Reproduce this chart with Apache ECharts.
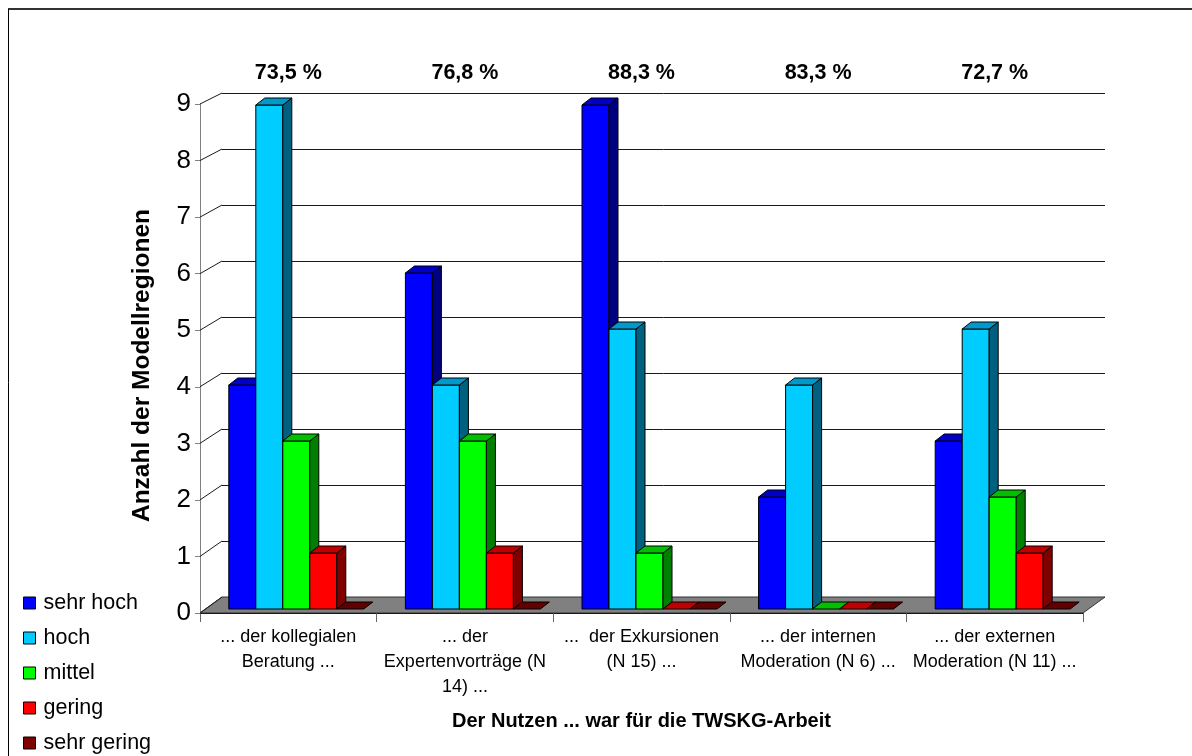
<!DOCTYPE html>
<html>
<head>
<meta charset="utf-8">
<script src="https://cdn.jsdelivr.net/npm/echarts@6/dist/echarts.min.js"></script>
<style>
html,body{margin:0;padding:0;background:#fff;}
#chart{width:1192px;height:756px;}
</style>
</head>
<body>
<div id="chart"></div>
<script>
// ---- data ----
const categories = [
  '... der kollegialen\nBeratung ...',
  '... der\nExpertenvorträge (N\n14) ...',
  '...  der Exkursionen\n(N 15) ...',
  '... der internen\nModeration (N 6) ...',
  '... der externen\nModeration (N 11) ...'
];
const percentLabels = ['73,5 %', '76,8 %', '88,3 %', '83,3 %', '72,7 %'];
const seriesNames = ['sehr hoch', 'hoch', 'mittel', 'gering', 'sehr gering'];
const sehrHoch   = [4, 6, 9, 2, 3];
const hoch       = [9, 4, 5, 4, 5];
const mittel     = [3, 3, 1, 0, 2];
const gering     = [1, 1, 0, 0, 1];
const sehrGering = [0, 0, 0, 0, 0];
const yTicks = [0, 1, 2, 3, 4, 5, 6, 7, 8, 9];

// ---- styles ----
const FONT = "'Liberation Sans', Arial, sans-serif";
const faceColors = ['#0000FF', '#00CCFF', '#00FF00', '#FF0000', '#800000'];
const topColors  = ['#0000C8', '#0099CC', '#00C000', '#C00000', '#600000'];
const sideColors = ['#000080', '#006080', '#008000', '#800000', '#400000'];
const BAR_FRAC = 27 / 176.6;
const DEPTH_X = 9, DEPTH_Y = 7;

const seriesValues = [sehrHoch, hoch, mittel, gering, sehrGering];

const GRID_FRONT = {left: 200, right: 109, top: 104, bottom: 143};
const GRID_BACK  = {left: 222, right: 87,  top: 93,  bottom: 159};
const GRID_MID   = {left: 208, right: 101, top: 105, bottom: 147};

function makeRender(sIdx) {
  return function (params, api) {
    const cat = api.value(0), v = api.value(1);
    const base = api.coord([cat, 0]);
    const top = api.coord([cat, v]);
    const band = api.size([1, 0])[0];
    const bw = band * BAR_FRAC;
    const x0 = base[0] - 2.5 * bw + sIdx * bw;
    const x1 = x0 + bw;
    const yb = base[1], yt = top[1];
    const stroke = {stroke: '#000', lineWidth: 1};
    const children = [];
    if (v > 0) {
      children.push({type: 'rect', shape: {x: x0, y: yt, width: bw, height: yb - yt},
        style: Object.assign({fill: faceColors[sIdx]}, stroke)});
      children.push({type: 'polygon', shape: {points: [[x1, yb], [x1 + DEPTH_X, yb - DEPTH_Y], [x1 + DEPTH_X, yt - DEPTH_Y], [x1, yt]]},
        style: Object.assign({fill: sideColors[sIdx]}, stroke)});
    }
    children.push({type: 'polygon', shape: {points: [[x0, yt], [x1, yt], [x1 + DEPTH_X, yt - DEPTH_Y], [x0 + DEPTH_X, yt - DEPTH_Y]]},
      style: Object.assign({fill: topColors[sIdx]}, stroke)});
    return {type: 'group', children: children};
  };
}

const chart = echarts.init(document.getElementById('chart'), null, {renderer: 'canvas'});

const series = seriesNames.map(function (name, i) {
  return {
    name: name,
    type: 'custom',
    xAxisIndex: 3,
    yAxisIndex: 2,
    z: 3 + i,
    itemStyle: {color: faceColors[i], borderColor: '#000', borderWidth: 1},
    renderItem: makeRender(i),
    data: seriesValues[i].map(function (v, c) { return [c, v]; })
  };
});

const option = {
  animation: false,
  backgroundColor: '#fff',
  textStyle: {fontFamily: FONT},
  grid: [
    Object.assign({containLabel: false}, GRID_FRONT),
    Object.assign({containLabel: false}, GRID_BACK),
    Object.assign({containLabel: false}, GRID_MID)
  ],
  legend: {
    orient: 'vertical',
    left: 23,
    top: 592,
    itemWidth: 12,
    itemHeight: 12,
    itemGap: 13,
    padding: 0,
    textStyle: {fontSize: 21.5, color: '#000', fontFamily: FONT, padding: [0, 0, 0, 3]},
    data: seriesNames.map(function (n, i) {
      return {name: n, icon: 'rect', itemStyle: {color: faceColors[i], borderColor: '#000', borderWidth: 1}};
    })
  },
  xAxis: [
    {
      gridIndex: 0, type: 'category', position: 'bottom', data: categories,
      axisLine: {lineStyle: {color: '#000', width: 1}},
      axisTick: {show: true, length: 9, lineStyle: {color: '#666'}},
      axisLabel: {interval: 0, fontSize: 18, lineHeight: 25, margin: 12, color: '#000', fontFamily: FONT},
      name: 'Der Nutzen ... war für die TWSKG-Arbeit',
      nameLocation: 'middle', nameGap: 98,
      nameTextStyle: {fontSize: 20, fontWeight: 'bold', color: '#000', fontFamily: FONT}
    },
    {
      gridIndex: 0, type: 'category', position: 'top', data: percentLabels,
      axisLine: {show: false}, axisTick: {show: false},
      axisLabel: {interval: 0, fontSize: 21.5, fontWeight: 'bold', margin: 20, color: '#000', fontFamily: FONT}
    },
    {gridIndex: 1, type: 'category', data: categories, show: false},
    {gridIndex: 2, type: 'category', data: categories, show: false}
  ],
  yAxis: [
    {
      gridIndex: 0, type: 'value', min: 0, max: 9, interval: 1,
      axisLine: {show: true, lineStyle: {color: '#808080', width: 1}},
      axisTick: {show: true, length: 5, lineStyle: {color: '#808080'}},
      axisLabel: {fontSize: 26, color: '#000', margin: 9, fontFamily: FONT, padding: [5, 0, 0, 0]},
      splitLine: {show: false},
      name: 'Anzahl der Modellregionen',
      nameLocation: 'middle', nameGap: 45,
      nameTextStyle: {fontSize: 24.5, fontWeight: 'bold', color: '#000', fontFamily: FONT, padding: [0, 14, 0, 0]}
    },
    {
      gridIndex: 1, type: 'value', min: 0, max: 9, interval: 1,
      axisLine: {show: false}, axisTick: {show: false}, axisLabel: {show: false},
      splitLine: {show: true, lineStyle: {color: '#1a1a1a', width: 1}}
    },
    {gridIndex: 2, type: 'value', min: 0, max: 9, interval: 1, show: false}
  ],
  series: series
};

chart.setOption(option);

// 3D frame: floor and the diagonal lines joining front ticks to back gridlines
function buildFrame() {
  const W = 1192;
  const fxL = GRID_FRONT.left, fxR = W - GRID_FRONT.right;
  const bxL = GRID_BACK.left, bxR = W - GRID_BACK.right;
  const graphics = [];
  const yf0 = chart.convertToPixel({yAxisIndex: 0}, 0);
  const yb0 = chart.convertToPixel({yAxisIndex: 1}, 0);
  graphics.push({
    type: 'polygon', z: 1,
    shape: {points: [[fxL, yf0], [fxR, yf0], [bxR, yb0], [bxL, yb0]]},
    style: {fill: '#808080', stroke: '#333', lineWidth: 1}
  });
  yTicks.forEach(function (t) {
    const yf = chart.convertToPixel({yAxisIndex: 0}, t);
    const yb = chart.convertToPixel({yAxisIndex: 1}, t);
    graphics.push({
      type: 'line', z: 1,
      shape: {x1: fxL, y1: yf, x2: bxL, y2: yb},
      style: {stroke: '#1a1a1a', lineWidth: 1}
    });
  });
  // outer chart-area border
  graphics.push({type: 'line', z: 10, shape: {x1: 8, y1: 9, x2: 1192, y2: 9}, style: {stroke: '#333', lineWidth: 2}});
  graphics.push({type: 'line', z: 10, shape: {x1: 8.5, y1: 9, x2: 8.5, y2: 756}, style: {stroke: '#000', lineWidth: 1}});
  chart.setOption({graphic: graphics});
}
buildFrame();
</script>
</body>
</html>
